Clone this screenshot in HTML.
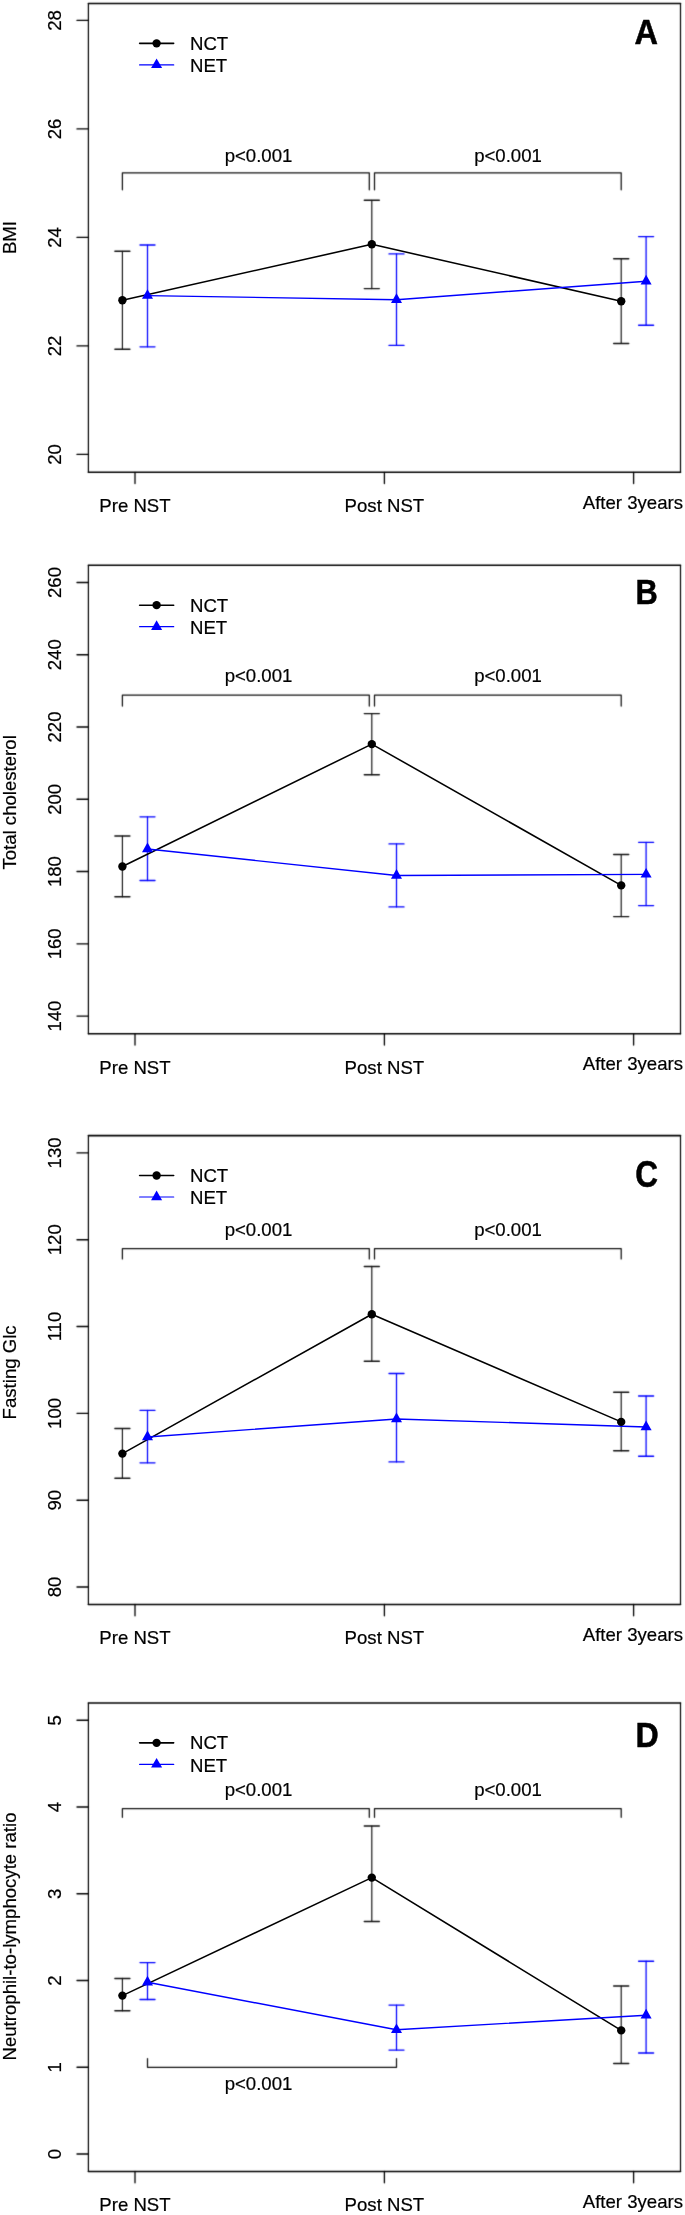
<!DOCTYPE html>
<html><head><meta charset="utf-8"><title>Figure</title>
<style>
html,body{margin:0;padding:0;background:#fff;}
svg{display:block;will-change:transform;}
text{font-family:"Liberation Sans",sans-serif;font-size:18.6px;fill:#000;stroke:#000;stroke-width:0.2px;}
text.L{font-weight:bold;font-size:33.5px;stroke:#000;stroke-width:0.5px;}
path,line,polyline{stroke-linecap:round;stroke-linejoin:round;fill:none;}
.bh{stroke:#000;stroke-width:1.6;}
.bv{stroke:#000;stroke-width:1.2;}
.kh{stroke:#000;stroke-width:1.4;}
.kv{stroke:#000;stroke-width:1.3;}
.br{stroke:#111;stroke-width:1.25;}
.ekv{stroke:#111;stroke-width:1.15;}
.ekh{stroke:#111;stroke-width:1.45;}
.ebv{stroke:#0000ff;stroke-width:1.25;}
.ebh{stroke:#0000ff;stroke-width:1.35;}
path.tri{fill:#0000ff;stroke:none;}
</style></head>
<body>
<svg width="685" height="2215" viewBox="0 0 685 2215">
<defs><filter id="soft" x="0" y="0" width="100%" height="100%" filterUnits="userSpaceOnUse"><feConvolveMatrix order="3" kernelMatrix="0.0169 0.0962 0.0169 0.0962 0.5476 0.0962 0.0169 0.0962 0.0169" edgeMode="duplicate" color-interpolation-filters="sRGB"/></filter></defs>
<rect width="685" height="2215" fill="#fff"/>
<g filter="url(#soft)">
<rect width="685" height="2215" fill="#fff"/>
<path d="M88.4 3.5H680.5M88.4 472.3H680.5" class="bh"/>
<path d="M88.4 3.5V472.3M680.5 3.5V472.3" class="bv"/>
<line x1="77" y1="20.4" x2="88.4" y2="20.4" class="kh"/>
<line x1="77" y1="128.9" x2="88.4" y2="128.9" class="kh"/>
<line x1="77" y1="237.4" x2="88.4" y2="237.4" class="kh"/>
<line x1="77" y1="345.9" x2="88.4" y2="345.9" class="kh"/>
<line x1="77" y1="454.4" x2="88.4" y2="454.4" class="kh"/>
<line x1="135" y1="472.3" x2="135" y2="483.6" class="kv"/>
<line x1="384.4" y1="472.3" x2="384.4" y2="483.6" class="kv"/>
<line x1="633.6" y1="472.3" x2="633.6" y2="483.6" class="kv"/>
<path d="M122.4 189.8V172.85H369.3V189.8" class="br"/>
<path d="M374.5 189.8V172.85H621.2V189.8" class="br"/>
<path d="M122.4 251.2V349.2M371.8 200.3V288.6M621.2 258.8V343.5" class="ekv"/>
<path d="M114.9 251.2H129.9M114.9 349.2H129.9M364.3 200.3H379.3M364.3 288.6H379.3M613.7 258.8H628.7M613.7 343.5H628.7" class="ekh"/>
<path d="M147.5 245V346.8M396.5 253.9V345.4M646.1 236.6V325.2" class="ebv"/>
<path d="M140 245H155M140 346.8H155M389 253.9H404M389 345.4H404M638.6 236.6H653.6M638.6 325.2H653.6" class="ebh"/>
<path d="M88.4 565.3H680.5M88.4 1033.8H680.5" class="bh"/>
<path d="M88.4 565.3V1033.8M680.5 565.3V1033.8" class="bv"/>
<line x1="77" y1="582.5" x2="88.4" y2="582.5" class="kh"/>
<line x1="77" y1="654.77" x2="88.4" y2="654.77" class="kh"/>
<line x1="77" y1="727.03" x2="88.4" y2="727.03" class="kh"/>
<line x1="77" y1="799.3" x2="88.4" y2="799.3" class="kh"/>
<line x1="77" y1="871.57" x2="88.4" y2="871.57" class="kh"/>
<line x1="77" y1="943.83" x2="88.4" y2="943.83" class="kh"/>
<line x1="77" y1="1016.1" x2="88.4" y2="1016.1" class="kh"/>
<line x1="135" y1="1033.8" x2="135" y2="1045.1" class="kv"/>
<line x1="384.4" y1="1033.8" x2="384.4" y2="1045.1" class="kv"/>
<line x1="633.6" y1="1033.8" x2="633.6" y2="1045.1" class="kv"/>
<path d="M122.4 706.1V695.1H369.3V706.1" class="br"/>
<path d="M374.5 706.1V695.1H621.2V706.1" class="br"/>
<path d="M122.4 836V896.8M371.8 713.6V774.7M621.2 854.5V916.6" class="ekv"/>
<path d="M114.9 836H129.9M114.9 896.8H129.9M364.3 713.6H379.3M364.3 774.7H379.3M613.7 854.5H628.7M613.7 916.6H628.7" class="ekh"/>
<path d="M147.5 816.8V880.5M396.5 843.9V906.9M646.1 842.3V905.6" class="ebv"/>
<path d="M140 816.8H155M140 880.5H155M389 843.9H404M389 906.9H404M638.6 842.3H653.6M638.6 905.6H653.6" class="ebh"/>
<path d="M88.4 1135.6H680.5M88.4 1604.5H680.5" class="bh"/>
<path d="M88.4 1135.6V1604.5M680.5 1135.6V1604.5" class="bv"/>
<line x1="77" y1="1152.9" x2="88.4" y2="1152.9" class="kh"/>
<line x1="77" y1="1239.72" x2="88.4" y2="1239.72" class="kh"/>
<line x1="77" y1="1326.54" x2="88.4" y2="1326.54" class="kh"/>
<line x1="77" y1="1413.36" x2="88.4" y2="1413.36" class="kh"/>
<line x1="77" y1="1500.18" x2="88.4" y2="1500.18" class="kh"/>
<line x1="77" y1="1587" x2="88.4" y2="1587" class="kh"/>
<line x1="135" y1="1604.5" x2="135" y2="1615.8" class="kv"/>
<line x1="384.4" y1="1604.5" x2="384.4" y2="1615.8" class="kv"/>
<line x1="633.6" y1="1604.5" x2="633.6" y2="1615.8" class="kv"/>
<path d="M122.4 1258.9V1248.7H369.3V1258.9" class="br"/>
<path d="M374.5 1258.9V1248.7H621.2V1258.9" class="br"/>
<path d="M122.4 1428.5V1478.2M371.8 1266.4V1361.2M621.2 1392.3V1450.8" class="ekv"/>
<path d="M114.9 1428.5H129.9M114.9 1478.2H129.9M364.3 1266.4H379.3M364.3 1361.2H379.3M613.7 1392.3H628.7M613.7 1450.8H628.7" class="ekh"/>
<path d="M147.5 1410.3V1462.8M396.5 1373.5V1461.9M646.1 1396V1456.2" class="ebv"/>
<path d="M140 1410.3H155M140 1462.8H155M389 1373.5H404M389 1461.9H404M638.6 1396H653.6M638.6 1456.2H653.6" class="ebh"/>
<path d="M88.4 1703H680.5M88.4 2171.5H680.5" class="bh"/>
<path d="M88.4 1703V2171.5M680.5 1703V2171.5" class="bv"/>
<line x1="77" y1="1720.3" x2="88.4" y2="1720.3" class="kh"/>
<line x1="77" y1="1807.04" x2="88.4" y2="1807.04" class="kh"/>
<line x1="77" y1="1893.78" x2="88.4" y2="1893.78" class="kh"/>
<line x1="77" y1="1980.52" x2="88.4" y2="1980.52" class="kh"/>
<line x1="77" y1="2067.26" x2="88.4" y2="2067.26" class="kh"/>
<line x1="77" y1="2154" x2="88.4" y2="2154" class="kh"/>
<line x1="135" y1="2171.5" x2="135" y2="2182.8" class="kv"/>
<line x1="384.4" y1="2171.5" x2="384.4" y2="2182.8" class="kv"/>
<line x1="633.6" y1="2171.5" x2="633.6" y2="2182.8" class="kv"/>
<path d="M122.4 1817.3V1808.7H369.3V1817.3" class="br"/>
<path d="M374.5 1817.3V1808.7H621.2V1817.3" class="br"/>
<path d="M147.5 2058.5V2067.3H396.5V2058.5" class="br"/>
<path d="M122.4 1978.4V2010.8M371.8 1826V1921.4M621.2 1986V2063.5" class="ekv"/>
<path d="M114.9 1978.4H129.9M114.9 2010.8H129.9M364.3 1826H379.3M364.3 1921.4H379.3M613.7 1986H628.7M613.7 2063.5H628.7" class="ekh"/>
<path d="M147.5 1962.6V1999.5M396.5 2005.1V2050.1M646.1 1961.2V2053" class="ebv"/>
<path d="M140 1962.6H155M140 1999.5H155M389 2005.1H404M389 2050.1H404M638.6 1961.2H653.6M638.6 2053H653.6" class="ebh"/>
</g>
<text transform="translate(61.2 20.4) rotate(-90)" text-anchor="middle">28</text>
<text transform="translate(61.2 128.9) rotate(-90)" text-anchor="middle">26</text>
<text transform="translate(61.2 237.4) rotate(-90)" text-anchor="middle">24</text>
<text transform="translate(61.2 345.9) rotate(-90)" text-anchor="middle">22</text>
<text transform="translate(61.2 454.4) rotate(-90)" text-anchor="middle">20</text>
<text x="135" y="512" text-anchor="middle">Pre NST</text>
<text x="384.4" y="512" text-anchor="middle">Post NST</text>
<text x="632.9" y="508.9" text-anchor="middle">After 3years</text>
<text transform="translate(16.3 237.5) rotate(-90)" text-anchor="middle">BMI</text>
<text transform="translate(646.2 44.1) scale(0.97 1.06)" text-anchor="middle" class="L">A</text>
<line x1="139.6" y1="43.35" x2="173.7" y2="43.35" stroke="#000000" stroke-width="1.55"/>
<circle cx="156.6" cy="43.35" r="4.2" fill="#000000"/>
<line x1="139.6" y1="64.9" x2="173.7" y2="64.9" stroke="#0000ff" stroke-width="1.2"/>
<path d="M156.6 58.52L162.12 68.09L151.08 68.09Z" class="tri"/>
<text x="190" y="49.8">NCT</text>
<text x="190" y="72">NET</text>
<text x="258.5" y="161.8" text-anchor="middle">p&lt;0.001</text>
<text x="508" y="161.8" text-anchor="middle">p&lt;0.001</text>
<polyline points="122.4,300.3 371.8,244.3 621.2,301.2" fill="none" stroke="#000000" stroke-width="1.55"/>
<polyline points="147.5,295.6 396.5,299.7 646.1,281.2" fill="none" stroke="#0000ff" stroke-width="1.4"/>
<circle cx="122.4" cy="300.3" r="4.2" fill="#000000"/>
<circle cx="371.8" cy="244.3" r="4.2" fill="#000000"/>
<circle cx="621.2" cy="301.2" r="4.2" fill="#000000"/>
<path d="M147.5 289.22L153.02 298.79L141.98 298.79Z" class="tri"/>
<path d="M396.5 293.32L402.02 302.89L390.98 302.89Z" class="tri"/>
<path d="M646.1 274.82L651.62 284.39L640.58 284.39Z" class="tri"/>
<text transform="translate(61.2 582.5) rotate(-90)" text-anchor="middle">260</text>
<text transform="translate(61.2 654.77) rotate(-90)" text-anchor="middle">240</text>
<text transform="translate(61.2 727.03) rotate(-90)" text-anchor="middle">220</text>
<text transform="translate(61.2 799.3) rotate(-90)" text-anchor="middle">200</text>
<text transform="translate(61.2 871.57) rotate(-90)" text-anchor="middle">180</text>
<text transform="translate(61.2 943.83) rotate(-90)" text-anchor="middle">160</text>
<text transform="translate(61.2 1016.1) rotate(-90)" text-anchor="middle">140</text>
<text x="135" y="1073.5" text-anchor="middle">Pre NST</text>
<text x="384.4" y="1073.5" text-anchor="middle">Post NST</text>
<text x="632.9" y="1070.4" text-anchor="middle">After 3years</text>
<text transform="translate(16.3 802.4) rotate(-90)" text-anchor="middle">Total cholesterol</text>
<text transform="translate(646.7 604.2) scale(0.92 1.04)" text-anchor="middle" class="L">B</text>
<line x1="139.6" y1="605.15" x2="173.7" y2="605.15" stroke="#000000" stroke-width="1.55"/>
<circle cx="156.6" cy="605.15" r="4.2" fill="#000000"/>
<line x1="139.6" y1="626.7" x2="173.7" y2="626.7" stroke="#0000ff" stroke-width="1.2"/>
<path d="M156.6 620.32L162.12 629.89L151.08 629.89Z" class="tri"/>
<text x="190" y="611.6">NCT</text>
<text x="190" y="633.8">NET</text>
<text x="258.5" y="682.2" text-anchor="middle">p&lt;0.001</text>
<text x="508" y="682.2" text-anchor="middle">p&lt;0.001</text>
<polyline points="122.4,866.5 371.8,744.1 621.2,885.4" fill="none" stroke="#000000" stroke-width="1.55"/>
<polyline points="147.5,849 396.5,875.5 646.1,874.4" fill="none" stroke="#0000ff" stroke-width="1.4"/>
<circle cx="122.4" cy="866.5" r="4.2" fill="#000000"/>
<circle cx="371.8" cy="744.1" r="4.2" fill="#000000"/>
<circle cx="621.2" cy="885.4" r="4.2" fill="#000000"/>
<path d="M147.5 842.62L153.02 852.19L141.98 852.19Z" class="tri"/>
<path d="M396.5 869.12L402.02 878.69L390.98 878.69Z" class="tri"/>
<path d="M646.1 868.02L651.62 877.59L640.58 877.59Z" class="tri"/>
<text transform="translate(61.2 1152.9) rotate(-90)" text-anchor="middle">130</text>
<text transform="translate(61.2 1239.72) rotate(-90)" text-anchor="middle">120</text>
<text transform="translate(61.2 1326.54) rotate(-90)" text-anchor="middle">110</text>
<text transform="translate(61.2 1413.36) rotate(-90)" text-anchor="middle">100</text>
<text transform="translate(61.2 1500.18) rotate(-90)" text-anchor="middle">90</text>
<text transform="translate(61.2 1587) rotate(-90)" text-anchor="middle">80</text>
<text x="135" y="1644.2" text-anchor="middle">Pre NST</text>
<text x="384.4" y="1644.2" text-anchor="middle">Post NST</text>
<text x="632.9" y="1641.1" text-anchor="middle">After 3years</text>
<text transform="translate(16.3 1372.4) rotate(-90)" text-anchor="middle">Fasting Glc</text>
<text transform="translate(646.5 1186.6) scale(0.94 1.095)" text-anchor="middle" class="L">C</text>
<line x1="139.6" y1="1175.45" x2="173.7" y2="1175.45" stroke="#000000" stroke-width="1.55"/>
<circle cx="156.6" cy="1175.45" r="4.2" fill="#000000"/>
<line x1="139.6" y1="1197" x2="173.7" y2="1197" stroke="#0000ff" stroke-width="1.2"/>
<path d="M156.6 1190.62L162.12 1200.19L151.08 1200.19Z" class="tri"/>
<text x="190" y="1181.9">NCT</text>
<text x="190" y="1204.1">NET</text>
<text x="258.5" y="1236" text-anchor="middle">p&lt;0.001</text>
<text x="508" y="1236" text-anchor="middle">p&lt;0.001</text>
<polyline points="122.4,1453.6 371.8,1314.3 621.2,1421.9" fill="none" stroke="#000000" stroke-width="1.55"/>
<polyline points="147.5,1437 396.5,1419 646.1,1427" fill="none" stroke="#0000ff" stroke-width="1.4"/>
<circle cx="122.4" cy="1453.6" r="4.2" fill="#000000"/>
<circle cx="371.8" cy="1314.3" r="4.2" fill="#000000"/>
<circle cx="621.2" cy="1421.9" r="4.2" fill="#000000"/>
<path d="M147.5 1430.62L153.02 1440.19L141.98 1440.19Z" class="tri"/>
<path d="M396.5 1412.62L402.02 1422.19L390.98 1422.19Z" class="tri"/>
<path d="M646.1 1420.62L651.62 1430.19L640.58 1430.19Z" class="tri"/>
<text transform="translate(61.2 1720.3) rotate(-90)" text-anchor="middle">5</text>
<text transform="translate(61.2 1807.04) rotate(-90)" text-anchor="middle">4</text>
<text transform="translate(61.2 1893.78) rotate(-90)" text-anchor="middle">3</text>
<text transform="translate(61.2 1980.52) rotate(-90)" text-anchor="middle">2</text>
<text transform="translate(61.2 2067.26) rotate(-90)" text-anchor="middle">1</text>
<text transform="translate(61.2 2154) rotate(-90)" text-anchor="middle">0</text>
<text x="135" y="2211.2" text-anchor="middle">Pre NST</text>
<text x="384.4" y="2211.2" text-anchor="middle">Post NST</text>
<text x="632.9" y="2208.1" text-anchor="middle">After 3years</text>
<text transform="translate(16.3 1936.5) rotate(-90)" text-anchor="middle">Neutrophil-to-lymphocyte ratio</text>
<text transform="translate(647 1747.3) scale(0.96 1.06)" text-anchor="middle" class="L">D</text>
<line x1="139.6" y1="1742.85" x2="173.7" y2="1742.85" stroke="#000000" stroke-width="1.55"/>
<circle cx="156.6" cy="1742.85" r="4.2" fill="#000000"/>
<line x1="139.6" y1="1764.4" x2="173.7" y2="1764.4" stroke="#0000ff" stroke-width="1.2"/>
<path d="M156.6 1758.02L162.12 1767.59L151.08 1767.59Z" class="tri"/>
<text x="190" y="1749.3">NCT</text>
<text x="190" y="1771.5">NET</text>
<text x="258.5" y="1796.4" text-anchor="middle">p&lt;0.001</text>
<text x="508" y="1796.4" text-anchor="middle">p&lt;0.001</text>
<text x="258.5" y="2089.5" text-anchor="middle">p&lt;0.001</text>
<polyline points="122.4,1995.6 371.8,1877.6 621.2,2030.4" fill="none" stroke="#000000" stroke-width="1.55"/>
<polyline points="147.5,1982.2 396.5,2029.8 646.1,2015.2" fill="none" stroke="#0000ff" stroke-width="1.4"/>
<circle cx="122.4" cy="1995.6" r="4.2" fill="#000000"/>
<circle cx="371.8" cy="1877.6" r="4.2" fill="#000000"/>
<circle cx="621.2" cy="2030.4" r="4.2" fill="#000000"/>
<path d="M147.5 1975.82L153.02 1985.39L141.98 1985.39Z" class="tri"/>
<path d="M396.5 2023.42L402.02 2032.99L390.98 2032.99Z" class="tri"/>
<path d="M646.1 2008.82L651.62 2018.39L640.58 2018.39Z" class="tri"/>
</svg>
</body></html>
